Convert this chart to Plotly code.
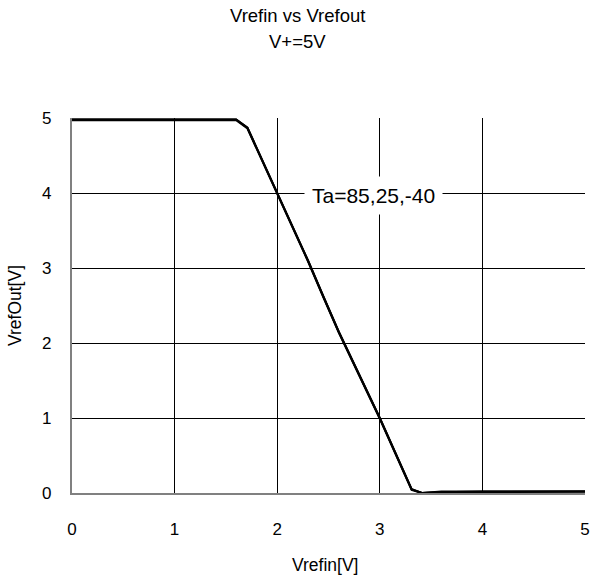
import plotly.graph_objects as go

# Vrefin sweep [V] and output response [V] for three ambient temperatures
vrefin = [0.0, 0.5, 1.0, 1.5, 1.6, 1.71, 2.0, 2.3, 2.45, 2.6, 3.0, 3.31, 3.41, 3.6, 4.0, 4.5, 5.0]
vout_85 = [4.98, 4.98, 4.98, 4.98, 4.98, 4.87, 4.0, 3.1, 2.62, 2.15, 1.0, 0.05, 0.0, 0.02, 0.02, 0.02, 0.02]
vout_25 = [4.98, 4.98, 4.98, 4.98, 4.98, 4.87, 4.0, 3.1, 2.62, 2.15, 1.0, 0.05, 0.0, 0.01, 0.02, 0.02, 0.02]
vout_m40 = [4.97, 4.97, 4.97, 4.97, 4.97, 4.86, 3.99, 3.09, 2.61, 2.14, 0.99, 0.04, 0.0, 0.01, 0.01, 0.02, 0.02]
temps = ["85", "25", "-40"]

x_ticks = [0, 1, 2, 3, 4, 5]
y_ticks = [0, 1, 2, 3, 4, 5]

font = "Liberation Sans, Arial, sans-serif"
W, H = 600, 579
L, R, T, B = 72, 10, 118, 86
plot_w, plot_h = W - L - R, H - T - B


def px_x(px):
    return (px - L) / plot_w


def px_y(py):
    return (H - B - py) / plot_h


fig = go.Figure()
for t, ys in zip(temps, [vout_85, vout_25, vout_m40]):
    fig.add_trace(go.Scatter(
        x=vrefin, y=ys, mode="lines", name=f"Ta={t}",
        line=dict(color="black", width=2), showlegend=False,
    ))

# curve label
fig.add_annotation(
    x=2.94, y=3.97, xref="x", yref="y", text="Ta=85,25,-40",
    showarrow=False, bgcolor="white", font=dict(family=font, size=21, color="black"),
    borderpad=7,
)

# two-line chart title, centred on the page
for text, py in [("Vrefin vs Vrefout", 16), ("V+=5V", 42)]:
    fig.add_annotation(
        x=px_x(300), xref="paper", y=px_y(py), yref="paper", text=text, showarrow=False,
        xanchor="center", yanchor="middle", font=dict(family=font, size=18.5, color="black"),
    )

# y tick labels, right-aligned a fixed distance left of the axis
for v in y_ticks:
    fig.add_annotation(
        x=px_x(53), xref="paper", y=v, yref="y", text=str(v), showarrow=False,
        xanchor="right", yanchor="middle", font=dict(family=font, size=17, color="black"),
    )

# axis titles
fig.add_annotation(
    x=px_x(327), xref="paper", y=px_y(565), yref="paper", text="Vrefin[V]", showarrow=False,
    xanchor="center", yanchor="middle", font=dict(family=font, size=17.5, color="black"),
)
fig.add_annotation(
    x=px_x(14), xref="paper", y=0.5, yref="paper", text="VrefOut[V]", showarrow=False,
    textangle=-90, xanchor="center", yanchor="middle",
    font=dict(family=font, size=17.5, color="black"),
)

fig.update_layout(
    width=W, height=H,
    margin=dict(l=L, r=R, t=T, b=B),
    paper_bgcolor="white", plot_bgcolor="white",
    font=dict(family=font, size=17, color="black"),
)
fig.update_xaxes(
    range=[0, 5], tickvals=x_ticks, ticktext=[str(v) for v in x_ticks],
    showgrid=True, gridcolor="black", gridwidth=1,
    showline=True, linecolor="#808080", linewidth=1.5,
    ticks="", zeroline=False, tickfont=dict(size=17), ticklabelstandoff=20,
)
fig.update_yaxes(
    range=[0, 5], tickvals=y_ticks, showticklabels=False,
    showgrid=True, gridcolor="black", gridwidth=1,
    showline=True, linecolor="#808080", linewidth=1.5,
    ticks="", zeroline=False,
)

fig.write_html("out.html")
